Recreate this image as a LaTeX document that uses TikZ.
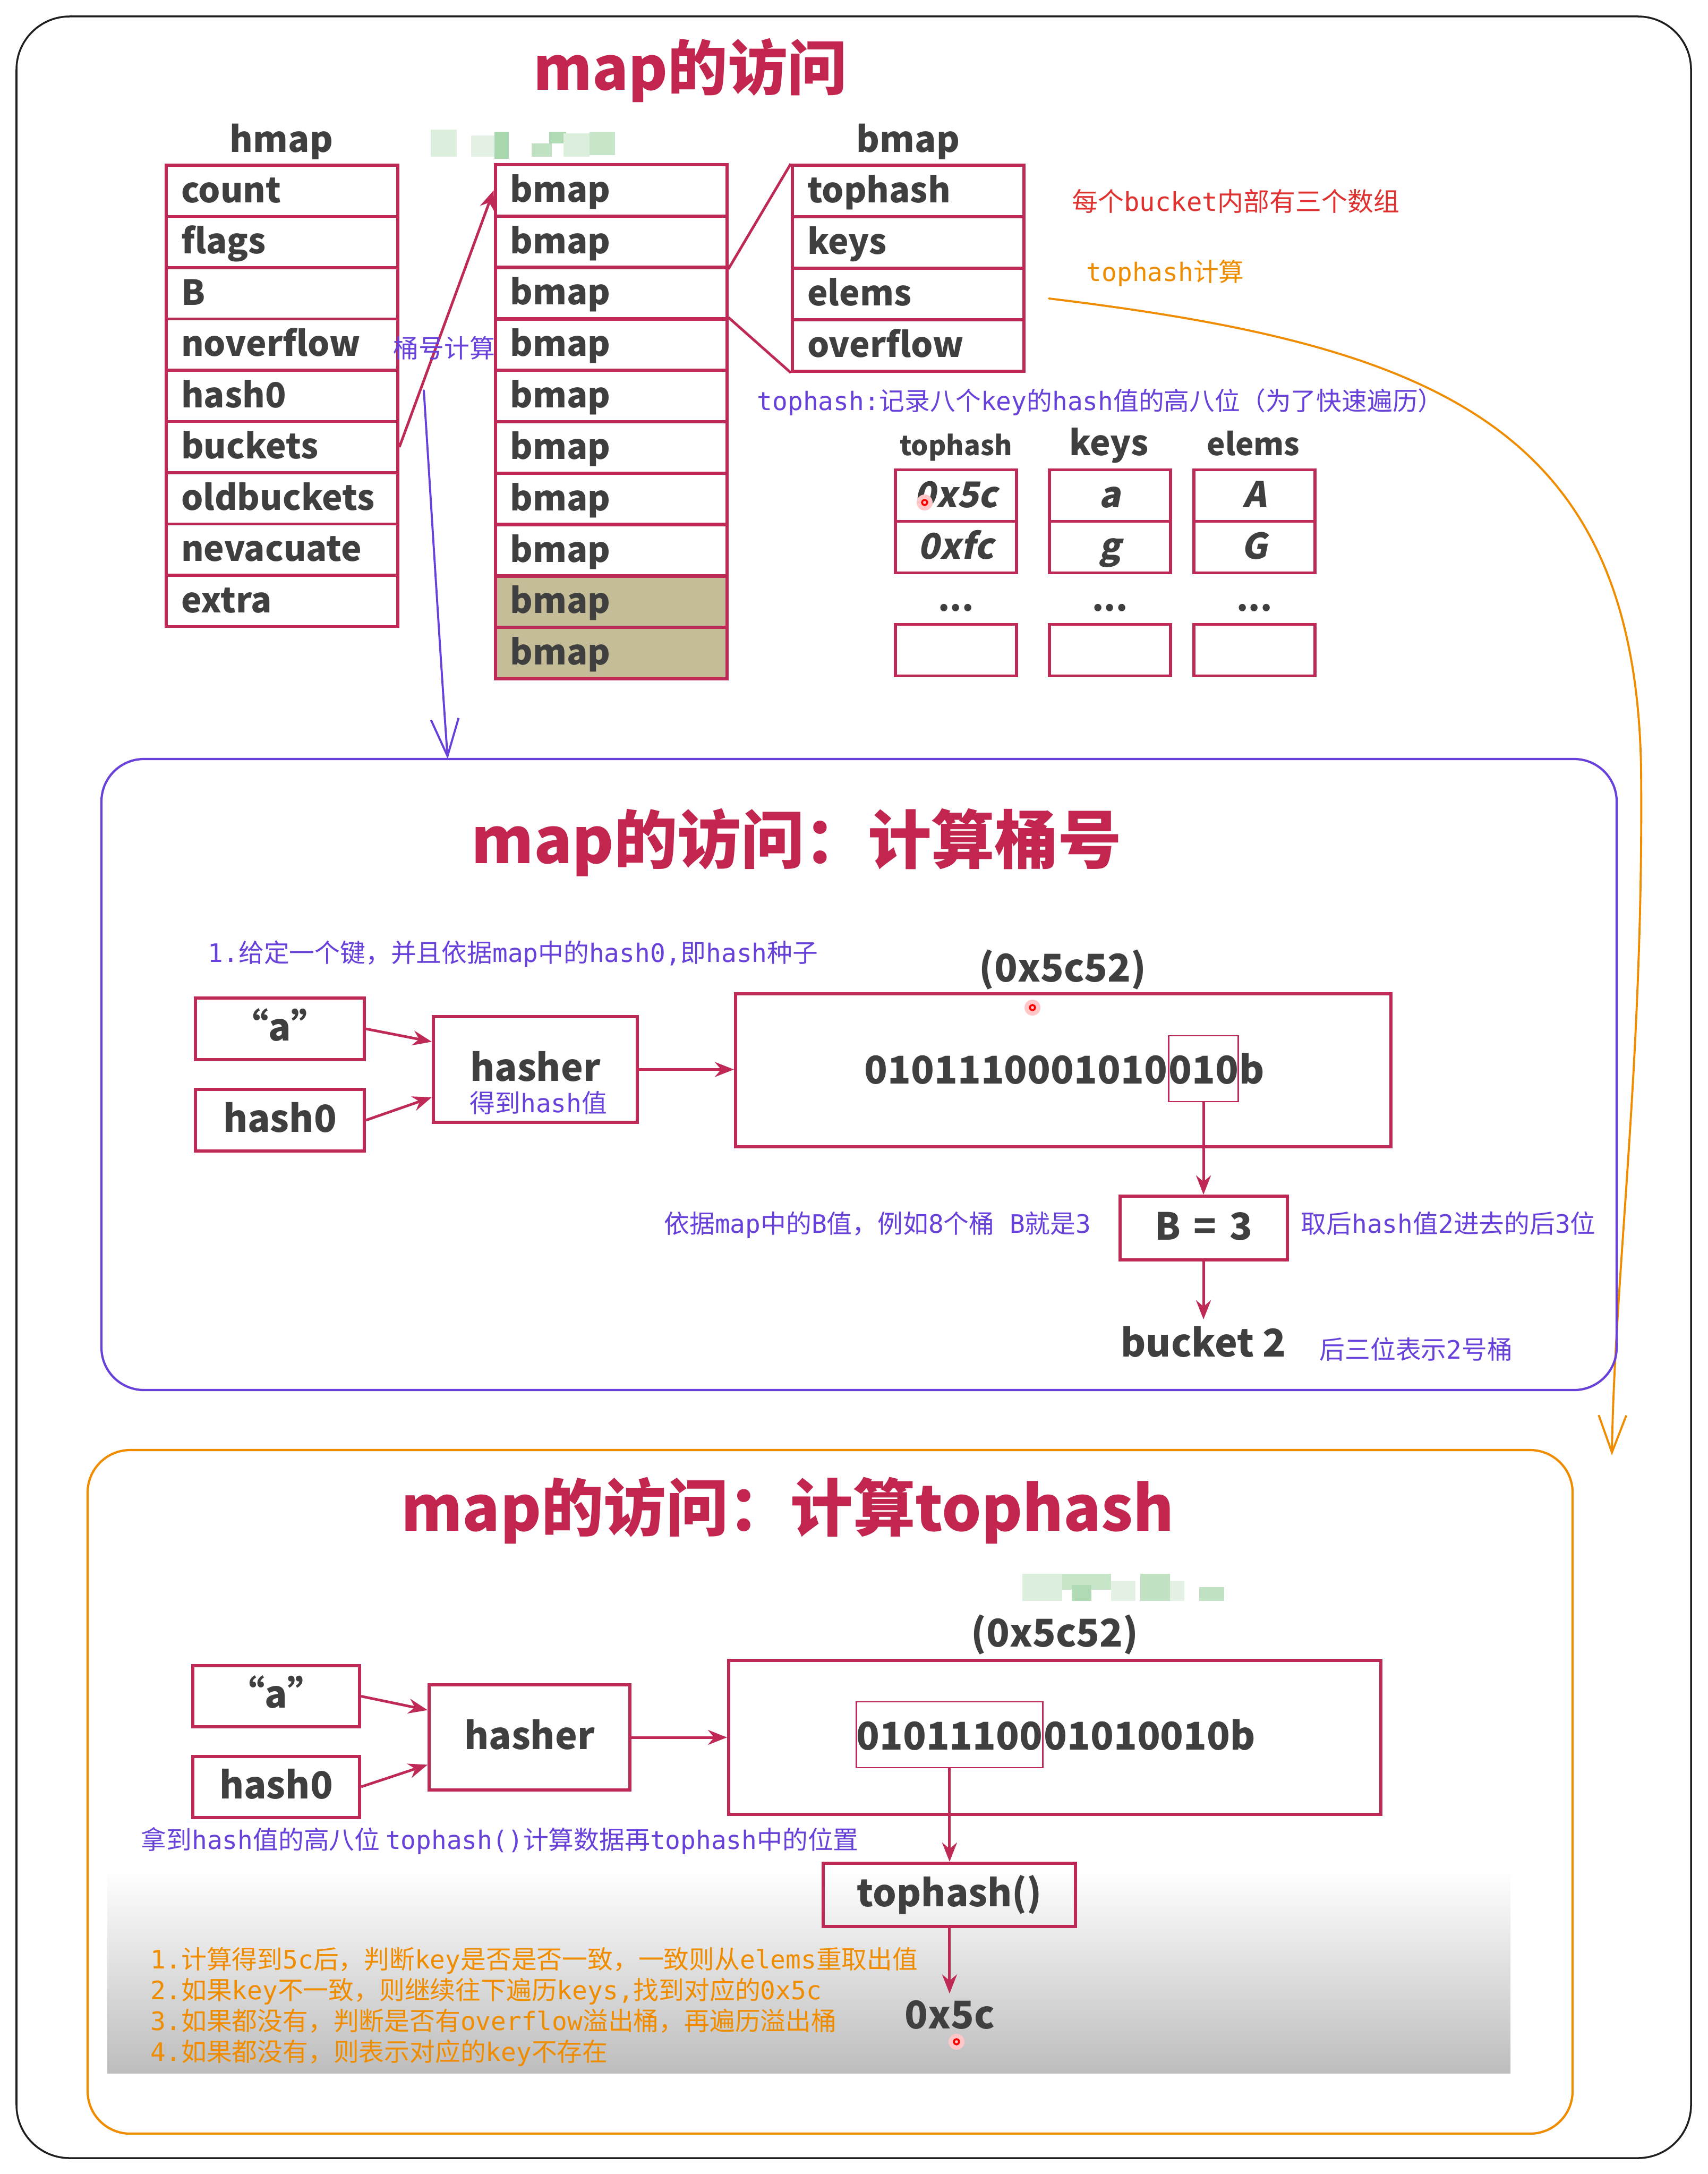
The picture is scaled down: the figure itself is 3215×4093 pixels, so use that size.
\documentclass[tikz,border=0pt]{standalone}
\usepackage{fontspec}
\setmainfont{Noto Sans CJK SC}
\setmonofont{DejaVu Sans Mono}
\newfontfamily\slfont[FakeSlant=0.2]{Noto Sans CJK SC}
\usetikzlibrary{arrows.meta,positioning}

\definecolor{boxred}{HTML}{BE2A55}
\definecolor{titlered}{HTML}{C2254E}
\definecolor{txtgray}{HTML}{3F3F3F}
\definecolor{tanfill}{HTML}{C4BD97}
\definecolor{excviolet}{HTML}{6741D9}
\definecolor{excorange}{HTML}{F08C00}
\definecolor{excred}{HTML}{E03131}
\definecolor{shadegray}{HTML}{BDBDBD}
\definecolor{mosaic}{HTML}{72BE78}

\newcommand\mono[1]{{\ttfamily #1}}
\newcommand\notesize{\fontsize{13.6}{16.5}\selectfont}

\begin{document}
\begin{tikzpicture}[x=0.1mm,y=-0.1mm,>={Stealth[length=3.6mm,width=2.8mm]},
  field/.style={draw=boxred,line width=1.7pt,minimum width=43.6mm,minimum height=9.65mm,
    text width=38mm,inner xsep=2.8mm,inner ysep=0pt,align=left,text height=5.8mm,text depth=1.4mm,
    font=\fontsize{18.5}{22}\selectfont\bfseries,text=txtgray},
  cell/.style={draw=boxred,line width=1.7pt,minimum width=22.8mm,minimum height=9.7mm,inner sep=0pt,
    text height=5.8mm,text depth=1.4mm,font=\slfont\bfseries\fontsize{19}{23}\selectfont,text=txtgray},
  head/.style={anchor=base,text=txtgray,font=\fontsize{#1}{24}\selectfont\bfseries},
  keybox/.style={draw=boxred,line width=1.7pt,inner sep=0pt,text height=5.8mm,text depth=1.4mm,
    font=\fontsize{20}{24}\selectfont\bfseries,text=txtgray},
  bigbox/.style={draw=boxred,line width=1.7pt},
  bin/.style={inner sep=0pt,font=\fontsize{20.5}{24}\selectfont\bfseries,text=txtgray},
  hilite/.style={draw=boxred,line width=0.8pt,minimum height=12.4mm,text height=5.6mm,text depth=0pt},
  val/.style={anchor=base,font=\fontsize{20.5}{24}\selectfont\bfseries,text=txtgray},
  title/.style={anchor=base,text=titlered,font=\fontsize{#1}{40}\selectfont\bfseries},
  note/.style={anchor=west,inner sep=0pt,font=\notesize},
  panel/.style={rounded corners=8mm,line width=1.2pt},
  link/.style={draw=boxred,line width=1.4pt},
  sketch/.style={line width=1.1pt,line cap=round,-{Straight Barb[length=7mm,width=5.2mm]}}]

\fill[white] (0,0) rectangle (3215,4093);
\useasboundingbox (0,0) rectangle (3215,4093);
\draw[line width=1pt,black!88,rounded corners=10mm] (31,31) rectangle (3184,4063);

\node[title=32] (title1) at (1300,170) {map的访问};
\node[head=19] (hmaplbl) at (530,287) {hmap};
\node[head=19] (bmaplbl) at (1710,287) {bmap};

\foreach \x/\y/\w/\h/\c in {811/244/49/51/25,887/255/44/40/20,931/248/27/51/60,1001/270/38/25/45,
  1034/248/32/22/55,1061/251/49/44/25,1110/248/48/44/40}
  \fill[mosaic!\c] (\x,\y) rectangle ++(\w,\h);

\foreach \f [count=\i] in {count,flags,B,noverflow,hash0,buckets,oldbuckets,nevacuate,extra}
  \node[field] (h\i) at (531,{359.25+96.5*(\i-1)}) {\f};
\foreach \i in {1,...,8}
  \node[field] (b\i) at (1150.5,{358.4+96.8*(\i-1)}) {bmap};
\foreach \i in {9,10}
  \node[field,fill=tanfill] (b\i) at (1150.5,{358.4+96.8*(\i-1)}) {bmap};
\foreach \f [count=\i] in {tophash,keys,elems,overflow}
  \node[field] (s\i) at (1710,{359.5+97*(\i-1)}) {\f};

\draw[->,link] (h6.east) -- (b1.west);
\draw[link] (b2.south east) -- (s1.north west);
\draw[link] (b4.north east) -- (s4.south west);

\node[note,text=excviolet] (bktnote) at (740,655) {桶号计算};
\node[note,text=excred,font=\fontsize{13.9}{17}\selectfont] (bucketnote) at (2018,379) {每个\mono{bucket}内部有三个数组};
\node[note,text=excorange] (thnote) at (2045,514) {\mono{tophash}计算};
\node[note,text=excviolet] (thdesc) at (1425,757) {\mono{tophash:}记录八个\mono{key}的\mono{hash}值的高八位（为了快速遍历）};

\node[head=14.5] (thhead) at (1800,857) {tophash};
\node[head=18.5] (khead) at (2088,857) {keys};
\node[head=16.5] (ehead) at (2360,857) {elems};
\node[cell] (t1) at (1800,933) {0x5c};
\node[cell] (t2) at (1800,1030) {0xfc};
\node[cell] (t3) at (1800,1224) {};
\node[cell] (k1) at (2090,933) {a};
\node[cell] (k2) at (2090,1030) {g};
\node[cell] (k3) at (2090,1224) {};
\node[cell] (e1) at (2362,933) {A};
\node[cell] (e2) at (2362,1030) {G};
\node[cell] (e3) at (2362,1224) {};
\foreach \x [count=\i] in {1800,2090,2362}
  \node[head=18] (dots\i) at (\x,1150) {...};

\coordinate (bkt0) at (798,735);
\coordinate (bkt1) at (843,1429);
\draw[sketch,excviolet] (bkt0) .. controls (815,1000) and (830,1250) .. (bkt1);
\coordinate (th0) at (1975,562);
\coordinate (th1) at (3035,2740);
\draw[sketch,excorange] (th0) .. controls (2700,650) and (3080,800) .. (3090,1450)
  .. controls (3095,2000) and (3040,2400) .. (th1);

% bucket number
\node[panel,draw=excviolet,minimum width=285.3mm,minimum height=118.8mm] (p2) at (1617.5,2023) {};
\node[title=34] (title2) at (1500,1625) {map的访问：计算桶号};
\node[note,text=excviolet] (step1) at (391,1796) {\mono{1.}给定一个键，并且依据\mono{map}中的\mono{hash0,}即\mono{hash}种子};
\node[val] (hv1) at (2001,1848) {(0x5c52)};
\node[keybox,minimum width=31.8mm,minimum height=11.6mm] (ka1) at (527,1937) {“a”};
\node[keybox,minimum width=31.8mm,minimum height=11.6mm] (kh1) at (527,2109) {hash0};
\node[keybox,minimum width=38.4mm,minimum height=19.9mm] (hs1) at (1008,2013.5) {hasher};
\node[note,anchor=center,text=excviolet] (hsnote1) at (1014,2076) {得到\mono{hash}值};
\node[bigbox,minimum width=123.4mm,minimum height=28.8mm] (bx1) at (2002,2015) {};
\node[bin,anchor=base west] (bin1a) at (1627,2040) {0101110001010};
\node[bin,hilite,anchor=base west] (hl1) at (bin1a.base east) {010};
\node[bin,anchor=base west] (bin1b) at (hl1.base east) {b};
\node[keybox,minimum width=31.5mm,minimum height=12mm] (b31) at (hl1.south |- 0,2312) {B\hspace{0.35em}=\hspace{0.35em}3};
\node[val] (bk1) at (b31.south |- 0,2554) {bucket 2};
\node[note,anchor=east,text=excviolet] (bnote) at (2055,2306) {依据\mono{map}中的\mono{B}值，例如\mono{8}个桶\mono{\ B}就是\mono{3}};
\node[note,text=excviolet] (lastnote) at (2449,2303) {取后\mono{hash}值\mono{2}进去的后\mono{3}位};
\node[note,text=excviolet] (bknote) at (2484,2540) {后三位表示\mono{2}号桶};

\draw[->,link] (ka1.east) -- (hs1.165);
\draw[->,link] (kh1.east) -- (hs1.195);
\draw[->,link] (hs1.east) -- (hs1.east -| bx1.west);
\draw[->,link] (hl1.south) -- (b31.north);
\draw[->,link] (b31.south) -- (bk1.north);

% tophash
\node[panel,draw=excorange,minimum width=279.6mm,minimum height=128.7mm] (p3) at (1563,3373.5) {};
\shade[top color=white,bottom color=shadegray] (202,3518) rectangle (2844,3903);
\node[title=33.4] (title3) at (1483,2882) {map的访问：计算tophash};
\foreach \x/\y/\w/\h/\c in {1925/2963/75/51/25,2000/2963/92/30/40,2018/2984/37/30/55,2092/2976/46/38/20,
  2147/2963/56/51/45,2203/2976/27/38/20,2258/2988/47/26/45}
  \fill[mosaic!\c] (\x,\y) rectangle ++(\w,\h);
\node[val] (hv2) at (1986,3100) {(0x5c52)};
\node[keybox,minimum width=31.4mm,minimum height=11.5mm] (ka2) at (520,3193.5) {“a”};
\node[keybox,minimum width=31.4mm,minimum height=11.5mm] (kh2) at (520,3364) {hash0};
\node[keybox,minimum width=37.8mm,minimum height=19.8mm] (hs2) at (997,3271) {hasher};
\node[bigbox,minimum width=122.8mm,minimum height=29mm] (bx2) at (1986,3271) {};
\node[bin,hilite,anchor=base west] (hl2) at (1611,3294) {01011100};
\node[bin,anchor=base west] (bin2b) at (hl2.base east) {01010010b};
\node[keybox,minimum width=47.5mm,minimum height=11.9mm] (th) at (hl2.south |- 0,3567.5) {tophash()};
\node[val] (hx) at (th.south |- 0,3819) {0x5c};
\node[note,text=excviolet] (step2) at (265,3466) {拿到\mono{hash}值的高八位 \mono{tophash()}计算数据再\mono{tophash}中的位置};
\node[note,text=excorange,align=left] (rules) at (283,3778)
  {\mono{1.}计算得到\mono{5c}后，判断\mono{key}是否是否一致，一致则从\mono{elems}重取出值\\
   \mono{2.}如果\mono{key}不一致，则继续往下遍历\mono{keys,}找到对应的\mono{0x5c}\\
   \mono{3.}如果都没有，判断是否有\mono{overflow}溢出桶，再遍历溢出桶\\
   \mono{4.}如果都没有，则表示对应的\mono{key}不存在};

\draw[->,link] (ka2.east) -- (hs2.165);
\draw[->,link] (kh2.east) -- (hs2.195);
\draw[->,link] (hs2.east) -- (hs2.east -| bx2.west);
\draw[->,link] (hl2.south) -- (th.north);
\draw[->,link] (th.south) -- (hx.north);

\foreach \p in {(1741,946),(1944,1897),(1801,3844)} {
  \fill[red!22] \p circle (1.5mm);
  \draw[red,line width=1pt] \p circle (0.5mm);
}
\end{tikzpicture}
\end{document}
